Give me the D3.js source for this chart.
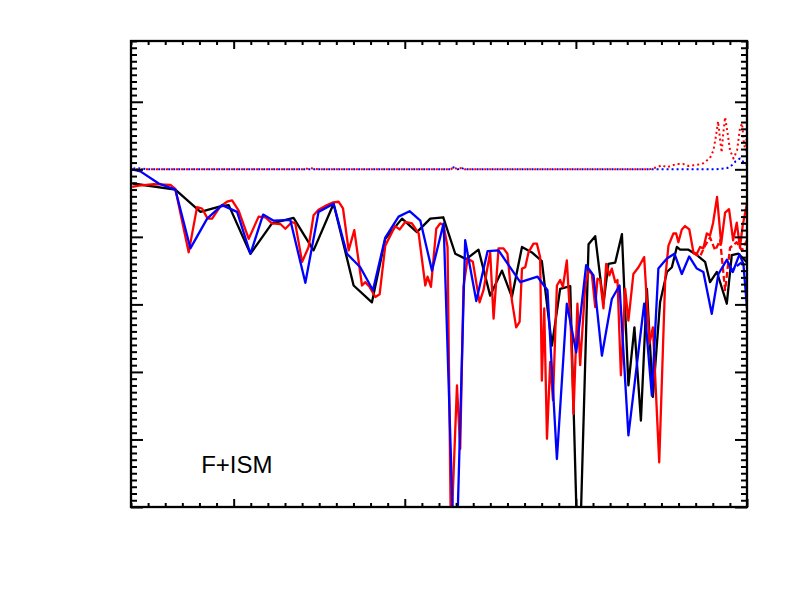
<!DOCTYPE html>
<html>
<head>
<meta charset="utf-8">
<script src="https://cdn.jsdelivr.net/npm/d3@7"></script>
<style>
  body { margin: 0; background: #fff; }
  svg { display: block; }
  .tick line { stroke: #000; }
</style>
</head>
<body>
<div id="chart"></div>
<script>
// axis ranges and ticks (no tick labels are printed on this plot)
const xDomain = [-60, 300]
const yDomain = [-500, 190]
const xMajor = [0, 100, 200, 300]
const yMajor = [-500, -400, -300, -200, -100, 0, 100]
const minorStep = 10

const label = "F+ISM"
const labelPos = [-19, -450]

// black solid
const blackX = [-59, -34.1, -19.4, -7.8, -2.9, 9.8, 22.4, 35.0, 46.7, 58.4, 70.1, 80.8, 88.6, 98.4, 107.1, 114.9, 122.5, 129.5, 135.9, 143.1, 149.9, 156.8, 162.6, 168.5, 174.3, 180.1, 186.0, 190.8, 196.7, 200.8, 202.5, 207.4, 211.3, 216.1, 219.0, 223.0, 226.9, 230.7, 234.2, 238.0, 241.5, 245.0, 249.2, 253.2, 256.1, 259.0, 260.9, 265.8, 270.7, 275.5, 278.4, 282.4, 288.2, 291.1, 295.0, 300]
const blackY = [-21, -30, -63, -55, -53, -125, -80, -72, -120, -51, -172, -197, -103, -73, -93, -73, -71, -125, -133, -119, -187, -150, -189, -115, -123, -136, -261, -177, -173, -550, -550, -111, -99, -199, -140, -138, -96, -320, -234, -372, -177, -337, -197, -152, -145, -115, -119, -119, -127, -137, -167, -152, -199, -127, -125, -138]

// blue solid
const blueX = [-59.3, -54.5, -43.8, -34.1, -25.3, -15.5, -6.8, 2.0, 9.8, 17.2, 23.4, 33.1, 41.9, 49.6, 58.4, 66.2, 74.0, 81.4, 88.6, 96.4, 102.8, 109.1, 115.9, 122.7, 128.5, 130.5, 135.3, 141.8, 148.4, 154.8, 167.5, 177.6, 183.4, 188.9, 194.7, 200.2, 206.0, 210.3, 215.2, 221.0, 225.5, 230.7, 239.9, 244.4, 248.2, 253.2, 257.6, 261.9, 266.2, 270.7, 274.5, 279.4, 283.3, 288.2, 291.7, 295.6, 297.9, 300]
const blueY = [0, -3, -21, -30, -117, -73, -53, -63, -125, -67, -76, -75, -168, -63, -51, -125, -145, -179, -101, -70, -62, -76, -150, -80, -550, -550, -105, -195, -121, -120, -167, -159, -179, -429, -199, -271, -142, -157, -276, -192, -172, -394, -199, -335, -147, -132, -125, -155, -129, -147, -152, -214, -155, -134, -152, -126, -140, -206]

// red solid
const redX = [-59.3, -55.5, -46.7, -37.0, -34.1, -26.3, -21.4, -18.5, -15.2, -12.6, -7.8, -3.9, -0.9, 2.9, 8.8, 14.6, 18.5, 22.4, 27.3, 30.2, 34.1, 36.0, 40.0, 43.8, 46.7, 49.6, 54.6, 58.2, 61.3, 63.9, 67.2, 70.5, 75.0, 76.9, 79.4, 82.8, 85.3, 88.6, 94.4, 97.0, 100.3, 104.2, 108.1, 112.0, 113.3, 115.3, 118.4, 120.7, 122.7, 125.0, 127.0, 130.5, 132.4, 134.3, 136.7, 139.8, 143.7, 146.0, 148.0, 149.9, 151.9, 154.8, 157.7, 160.0, 162.6, 165.1, 167.1, 168.5, 170.4, 172.3, 175.2, 177.2, 179.1, 180.1, 181.5, 183.1, 185.0, 186.6, 188.9, 190.8, 192.4, 194.7, 197.1, 198.6, 200.9, 202.5, 205.4, 207.4, 209.3, 211.3, 212.6, 214.2, 216.1, 217.7, 219.6, 221.0, 223.0, 224.3, 226.3, 228.8, 230.7, 233.6, 236.6, 239.9, 243.0, 245.0, 248.7, 252.2, 254.1, 257.0, 258.6, 259.9, 261.9, 263.8, 266.3, 268.7, 270.7, 272.6, 274.5, 276.5, 278.4, 280.2, 282.5, 284.9, 287.2, 289.5, 291.9, 294.0, 295.9, 297.5, 299.2, 300.5]
const redY = [-26, -24, -22, -23, -29, -123, -56, -58, -73, -73, -55, -48, -46, -61, -103, -70, -71, -80, -81, -88, -78, -80, -137, -115, -68, -60, -53, -49, -48, -58, -120, -90, -172, -167, -174, -189, -185, -113, -84, -89, -78, -80, -95, -172, -159, -174, -88, -80, -83, -115, -550, -320, -414, -174, -132, -137, -197, -179, -150, -123, -221, -117, -117, -125, -194, -234, -226, -147, -145, -123, -110, -110, -130, -313, -206, -399, -285, -342, -172, -164, -174, -135, -239, -362, -199, -290, -174, -150, -155, -204, -162, -164, -206, -140, -157, -147, -167, -164, -305, -177, -224, -155, -145, -130, -258, -234, -434, -162, -113, -95, -95, -108, -89, -84, -89, -123, -125, -115, -117, -95, -98, -79, -41, -110, -64, -59, -105, -79, -116, -83, -61, -44]

// red dashed (right end)
const redDashX = [268.5, 272.6, 275.5, 278.4, 281.4, 284.3, 287.2, 290.1, 294.0, 297.0, 300]
const redDashY = [-124, -129, -113, -101, -120, -105, -179, -116, -108, -120, -105]

// blue dashed (right end)
const blueDashX = [290.1, 294.2, 297.3]
const blueDashY = [-152, -143, -137]

// dotted curves near zero
const redDotX = [-60, 40, 45, 50, 127, 128.5, 131, 133, 135, 243, 247.3, 250.2, 253.2, 259.0, 262.5, 265.8, 268.7, 271.6, 274.5, 276.5, 278.4, 280.4, 281.9, 283.1, 284.3, 285.2, 286.0, 287.2, 288.4, 290.1, 292.1, 294.2, 295.9, 297.1, 298.3, 299.5, 300]
const redDotY = [0, 0, 1.5, 0, 0, 3, 0, 2, 0, 0, 3, 6, 3, 8, 8, 5, 6, 7, 9, 13, 17, 28, 50, 71, 43, 25, 50, 77, 58, 28, 16, 28, 61, 68, 36, 28, 61]
const blueDotX = [-60, -57, -53, -50, 127, 128.5, 131, 133, 135, 282, 288.6, 291.1, 293.4, 295.9, 297.9, 300]
const blueDotY = [0, 2, 1, 0, 0, 3, 0, 2, 0, 0, 2, 6, 12, 16, 11, 6]

const width = 786, height = 591
const margin = {top: 41, right: 39, bottom: 84, left: 131}
const plotW = width - margin.left - margin.right
const plotH = height - margin.top - margin.bottom

const svg = d3.select("#chart").append("svg")
    .attr("width", width)
    .attr("height", height)

const x = d3.scaleLinear().domain(xDomain).range([margin.left, margin.left + plotW])
const y = d3.scaleLinear().domain(yDomain).range([margin.top + plotH, margin.top])

svg.append("clipPath").attr("id", "clip")
    .append("rect")
    .attr("x", margin.left).attr("y", margin.top)
    .attr("width", plotW).attr("height", plotH)

const line = d3.line().x(d => x(d[0])).y(d => y(d[1]))
const plot = svg.append("g").attr("clip-path", "url(#clip)")

function draw(xs, ys, color, dash, w, offset){
    plot.append("path")
        .attr("d", line(d3.zip(xs, ys)))
        .attr("fill", "none")
        .attr("stroke", color)
        .attr("stroke-width", w || 2.3)
        .attr("stroke-linejoin", "round")
        .attr("stroke-dasharray", dash || null)
        .attr("stroke-dashoffset", offset || 0)
}

draw(redDotX, redDotY, "#ff0000", "2,3", 2)
draw(blueDotX, blueDotY, "#0000ff", "2,3", 2, 2.5)
draw(blackX, blackY, "#000")
draw(redDashX, redDashY, "#ff0000", "6,3")
draw(blueDashX, blueDashY, "#0000ff", "6,3")
draw(redX, redY, "#ff0000")
draw(blueX, blueY, "#0000ff")

// axes: inward ticks on all four sides, no labels
const xMinor = d3.range(xDomain[0], xDomain[1] + 0.1, minorStep).filter(v => !xMajor.includes(v))
const yMinor = d3.range(yDomain[0], yDomain[1] + 0.1, minorStep).filter(v => !yMajor.includes(v))

function ticks(axis, values, size, transform){
    const g = svg.append("g")
        .attr("transform", transform)
        .call(axis.tickValues(values).tickSize(size).tickFormat(""))
    g.select(".domain").remove()
    g.selectAll("line").attr("stroke-width", 2)
}

const bottomT = `translate(0,${margin.top + plotH})`
const topT = `translate(0,${margin.top})`
const leftT = `translate(${margin.left},0)`
const rightT = `translate(${margin.left + plotW},0)`

ticks(d3.axisBottom(x), xMajor, -8, bottomT)
ticks(d3.axisBottom(x), xMinor, -4, bottomT)
ticks(d3.axisTop(x), xMajor, -8, topT)
ticks(d3.axisTop(x), xMinor, -4, topT)
ticks(d3.axisLeft(y), yMajor, -12, leftT)
ticks(d3.axisLeft(y), yMinor, -6, leftT)
ticks(d3.axisRight(y), yMajor, -12, rightT)
ticks(d3.axisRight(y), yMinor, -6, rightT)

svg.append("rect")
    .attr("x", margin.left).attr("y", margin.top)
    .attr("width", plotW).attr("height", plotH)
    .attr("fill", "none")
    .attr("stroke", "#000")
    .attr("stroke-width", 2.3)

svg.append("text")
    .attr("x", x(labelPos[0]))
    .attr("y", y(labelPos[1]))
    .attr("font-family", "Liberation Sans, Arial, Helvetica, sans-serif")
    .attr("font-size", 24)
    .attr("fill", "#000")
    .text(label)
</script>
</body>
</html>
